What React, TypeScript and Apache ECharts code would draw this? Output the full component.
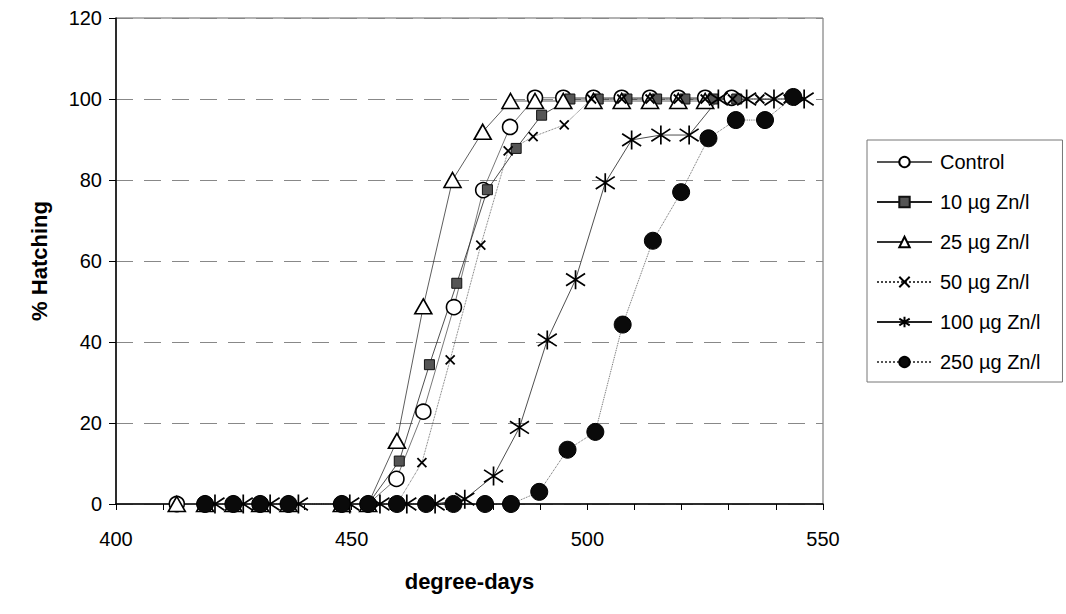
import React, { useEffect, useRef } from "react";
import * as echarts from "echarts";

// ---- Data ----
const xTicks = [400, 450, 500, 550];
const yTicks = [0, 20, 40, 60, 80, 100, 120];

const seriesNames = ["Control", "10 µg Zn/l", "25 µg Zn/l", "50 µg Zn/l", "100 µg Zn/l", "250 µg Zn/l"];

const controlX = [412.9, 418.9, 424.9, 430.6, 436.6, 447.9, 453.5, 459.5, 465.2, 471.7, 477.9, 483.6, 488.9, 494.9, 501.3, 507.3, 513.3, 519.3, 525.0, 530.6];
const controlY = [0, 0, 0, 0, 0, 0, 0, 6.2, 22.8, 48.6, 77.5, 93.1, 100.3, 100.3, 100.3, 100.3, 100.3, 100.3, 100.3, 100.3];

const zn10X = [418.9, 424.9, 430.6, 436.6, 447.9, 453.5, 460.1, 466.5, 472.3, 478.8, 484.9, 490.3, 496.3, 502.3, 508.4, 514.7, 520.7, 526.7, 531.7];
const zn10Y = [0, 0, 0, 0, 0, 0, 10.6, 34.4, 54.5, 77.6, 87.8, 96.0, 100, 100, 100, 100, 100, 100, 100];

const zn25X = [412.9, 418.9, 424.9, 430.6, 436.6, 447.9, 453.5, 459.6, 465.2, 471.4, 477.8, 483.7, 488.9, 494.9, 501.3, 507.3, 513.3, 519.3, 525.0];
const zn25Y = [0, 0, 0, 0, 0, 0, 0, 15.6, 48.8, 80.0, 91.9, 99.5, 99.5, 99.5, 99.5, 99.5, 99.5, 99.5, 99.5];

const zn50X = [418.9, 424.9, 430.6, 436.6, 447.9, 453.5, 459.6, 464.9, 470.9, 477.4, 483.2, 488.5, 495.1, 500.9, 507.3, 513.3, 519.3, 525.0, 530.8, 536.6, 542.6];
const zn50Y = [0, 0, 0, 0, 0, 0, 0, 10.2, 35.6, 63.9, 87.2, 90.7, 93.6, 100, 100, 100, 100, 100, 100, 100, 100];

const zn100X = [421.0, 427.0, 432.7, 438.7, 449.6, 456.0, 461.7, 467.7, 474.0, 480.1, 485.6, 491.5, 497.5, 503.8, 509.4, 515.6, 521.6, 527.8, 533.8, 539.6, 546.0];
const zn100Y = [0, 0, 0, 0, 0, 0, 0, 0, 1.2, 6.9, 18.9, 40.5, 55.4, 79.3, 89.9, 91.1, 91.1, 100, 100, 100, 100];

const zn250X = [418.9, 424.9, 430.6, 436.6, 447.9, 453.5, 459.6, 465.8, 471.6, 478.3, 483.8, 489.8, 495.8, 501.7, 507.5, 513.9, 519.9, 525.7, 531.5, 537.7, 543.7];
const zn250Y = [0, 0, 0, 0, 0, 0, 0, 0, 0, 0, 0, 3.0, 13.4, 17.8, 44.3, 65.0, 77.0, 90.3, 94.8, 94.8, 100.5];

const zip = (xs: number[], ys: number[]) => xs.map((x, i) => [x, ys[i]]);

const FONT = "Liberation Sans, Arial, sans-serif";

export default function App() {
  const ref = useRef<HTMLDivElement>(null);

  useEffect(() => {
    if (!ref.current) return;
    const chart = echarts.init(ref.current, undefined, { renderer: "svg" });

    const asterisk = "path://M10,0L10,20M1,3.5L19,16.5M19,3.5L1,16.5";
    const cross = "path://M0,0L10,10M10,0L0,10";

    const base = (name: string, data: number[][], extra: any) => ({
      name,
      type: "line",
      data,
      showAllSymbol: true,
      smooth: false,
      lineStyle: { color: "#333", width: 0.8 },
      emphasis: { disabled: true },
      ...extra,
    });

    const option: any = {
      animation: false,
      backgroundColor: "#fff",
      textStyle: { fontFamily: FONT },
      grid: {
        left: 116,
        top: 18,
        width: 707,
        height: 486,
        show: true,
        borderColor: "#666",
        borderWidth: 1,
      },
      legend: {
        orient: "vertical",
        left: 867,
        top: 140,
        itemWidth: 55,
        itemHeight: 13,
        itemGap: 20,
        padding: [12, 22, 10, 9],
        borderColor: "#777",
        borderWidth: 1,
        backgroundColor: "#fff",
        textStyle: { fontSize: 20, fontFamily: FONT, color: "#000", padding: [0, 0, 0, 3] },
        data: seriesNames,
      },
      xAxis: {
        type: "value",
        min: 400,
        max: 550,
        interval: 10,
        name: "degree-days",
        nameLocation: "middle",
        nameGap: 66,
        nameTextStyle: { fontSize: 22, fontWeight: "bold", color: "#000", fontFamily: FONT },
        axisLine: { show: true, onZero: false, lineStyle: { color: "#000", width: 1.5 } },
        axisTick: { show: true, inside: false, length: 6, lineStyle: { color: "#000" } },
        axisLabel: {
          margin: 25,
          fontSize: 20,
          color: "#000",
          fontFamily: FONT,
          formatter: (v: number) => (xTicks.includes(v) ? String(v) : ""),
        },
        splitLine: { show: false },
      },
      yAxis: {
        type: "value",
        min: yTicks[0],
        max: yTicks[yTicks.length - 1],
        interval: 20,
        name: "% Hatching",
        nameLocation: "middle",
        nameGap: 66,
        nameTextStyle: { fontSize: 22, fontWeight: "bold", color: "#000", fontFamily: FONT },
        axisLine: { show: true, lineStyle: { color: "#000", width: 1.5 } },
        axisTick: { show: true, inside: false, length: 7, lineStyle: { color: "#000" } },
        axisLabel: { margin: 14, fontSize: 20, color: "#000", fontFamily: FONT },
        splitLine: { show: true, lineStyle: { color: "#888", width: 1, type: [17, 11] } },
      },
      series: [
        base(seriesNames[0], zip(controlX, controlY), {
          symbol: "circle",
          symbolSize: 15,
          itemStyle: { color: "#fff", borderColor: "#000", borderWidth: 1.6 },
          lineStyle: { color: "#555", width: 0.8 },
        }),
        base(seriesNames[1], zip(zn10X, zn10Y), {
          symbol: "rect",
          symbolSize: 10,
          itemStyle: { color: "#555", borderColor: "#111", borderWidth: 1 },
          lineStyle: { color: "#222", width: 0.8 },
        }),
        base(seriesNames[2], zip(zn25X, zn25Y), {
          symbol: "triangle",
          symbolSize: [17, 15],
          itemStyle: { color: "#fff", borderColor: "#000", borderWidth: 1.6 },
          lineStyle: { color: "#333", width: 0.8 },
        }),
        base(seriesNames[3], zip(zn50X, zn50Y), {
          symbol: cross,
          symbolSize: 9,
          itemStyle: { color: "rgba(0,0,0,0)", borderColor: "#000", borderWidth: 1.8 },
          lineStyle: { color: "#444", width: 0.8, type: "dotted" },
        }),
        base(seriesNames[4], zip(zn100X, zn100Y), {
          symbol: asterisk,
          symbolSize: 19,
          itemStyle: { color: "rgba(0,0,0,0)", borderColor: "#000", borderWidth: 1.7 },
          lineStyle: { color: "#222", width: 0.8 },
        }),
        base(seriesNames[5], zip(zn250X, zn250Y), {
          symbol: "circle",
          symbolSize: 17,
          itemStyle: { color: "#0a0a0a", borderColor: "#000", borderWidth: 1 },
          lineStyle: { color: "#555", width: 0.9, type: "dotted" },
        }),
      ],
    };

    chart.setOption(option);
    return () => chart.dispose();
  }, []);

  return (
    <div
      ref={ref}
      style={{ position: "fixed", left: 0, top: 0, width: 1066, height: 614, background: "#fff" }}
    />
  );
}
